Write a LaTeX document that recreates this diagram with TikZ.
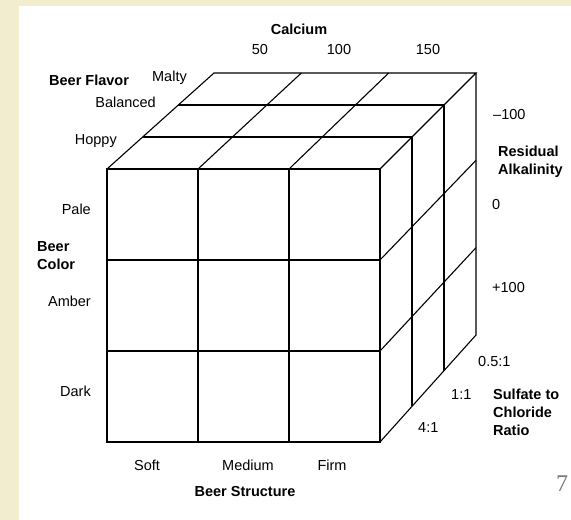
\documentclass[tikz,border=0pt]{standalone}
\usepackage{fontspec}
\setmainfont{Liberation Sans}
\newfontfamily\pagefont{Liberation Serif}
\usetikzlibrary{calc,positioning}
\definecolor{parchment}{HTML}{F3EDD0}
\definecolor{pagegray}{HTML}{7A7A7A}
\tikzset{
    gridline/.style={draw=black, line width=1.1pt, line join=miter},
    ticklabel/.style={font=\fontsize{14.5}{18}\selectfont, inner sep=0pt},
    axistitle/.style={font=\fontsize{14.5}{18}\selectfont\bfseries, inner sep=0pt, align=left},
}

\begin{document}
\begin{tikzpicture}[x=1pt, y=-1pt]
    \fill[parchment] (0,0) rectangle (571,520);
    \fill[white] (19,6) rectangle (571,520);
    \useasboundingbox (0,0) rectangle (571,520);

    % front face corners
    \coordinate (ftl) at (107,169);
    \coordinate (ftr) at (380,169);
    \coordinate (fbr) at (380,442);
    \coordinate (fbl) at (107,442);
    % back face corners
    \coordinate (btl) at (214,73);
    \coordinate (btr) at (476,73);
    \coordinate (bbr) at (476,335);

    % front face
    \draw[gridline] (ftl) rectangle (fbr);
    \foreach \t in {0.3333,0.6667} {
        \draw[gridline] ($(ftl)!\t!(ftr)$) -- ($(fbl)!\t!(fbr)$);
        \draw[gridline] ($(ftl)!\t!(fbl)$) -- ($(ftr)!\t!(fbr)$);
    }
    % top face
    \draw[gridline] (ftl) -- (btl) -- (btr) -- (ftr);
    \foreach \t in {0.3333,0.6667} {
        \draw[gridline] ($(ftl)!\t!(btl)$) -- ($(ftr)!\t!(btr)$) -- ($(fbr)!\t!(bbr)$);
        \draw[gridline] ($(ftl)!\t!(ftr)$) -- ($(btl)!\t!(btr)$);
    }
    % right face
    \draw[gridline] (btr) -- (bbr) -- (fbr);
    \foreach \t in {0.3333,0.6667}
        \draw[gridline] ($(ftr)!\t!(fbr)$) -- ($(btr)!\t!(bbr)$);

    % calcium
    \node[axistitle] (calcium) at (299,29) {Calcium};
    \node[ticklabel, anchor=mid] (ca50) at (260,52) {50};
    \node[ticklabel, anchor=mid] (ca100) at (339,52) {100};
    \node[ticklabel, anchor=mid] (ca150) at (428,52) {150};

    % flavor
    \node[axistitle, anchor=mid west] (flavor) at (49,83) {Beer Flavor};
    \node[ticklabel, anchor=mid east] (malty) at (187,79) {Malty};
    \node[ticklabel, anchor=mid east] (balanced) at (156,105) {Balanced};
    \node[ticklabel, anchor=mid east] (hoppy) at (117,142) {Hoppy};

    % color
    \node[axistitle, anchor=north west] (color) at (37,241) {Beer\\Color};
    \node[ticklabel, anchor=mid east] (pale) at (91,212) {Pale};
    \node[ticklabel, anchor=mid east] (amber) at (91,304) {Amber};
    \node[ticklabel, anchor=mid east] (dark) at (91,394) {Dark};

    % structure
    \node[ticklabel, anchor=mid] (soft) at (147,468) {Soft};
    \node[ticklabel, anchor=mid] (medium) at (248,468) {Medium};
    \node[ticklabel, anchor=mid] (firm) at (332,468) {Firm};
    \node[axistitle, anchor=mid] (structure) at (245,494) {Beer Structure};

    % residual alkalinity
    \node[ticklabel, anchor=mid west] (ramin) at (493,117) {--100};
    \node[axistitle, anchor=north west] (alkalinity) at (498,146) {Residual\\Alkalinity};
    \node[ticklabel, anchor=mid west] (razero) at (492,207) {0};
    \node[ticklabel, anchor=mid west] (ramax) at (492,290) {+100};

    % sulfate to chloride
    \node[ticklabel, anchor=mid west] (halfone) at (478,364) {0.5:1};
    \node[ticklabel, anchor=mid west] (oneone) at (451,397) {1:1};
    \node[ticklabel, anchor=mid west] (fourone) at (418,430) {4:1};
    \node[axistitle, anchor=north west] (ratio) at (493,389) {Sulfate to\\Chloride\\Ratio};

    \node[font=\fontsize{24}{24}\selectfont\pagefont, text=pagegray, inner sep=0pt, anchor=base west] (pageno) at (556,491) {7};
\end{tikzpicture}
\end{document}
